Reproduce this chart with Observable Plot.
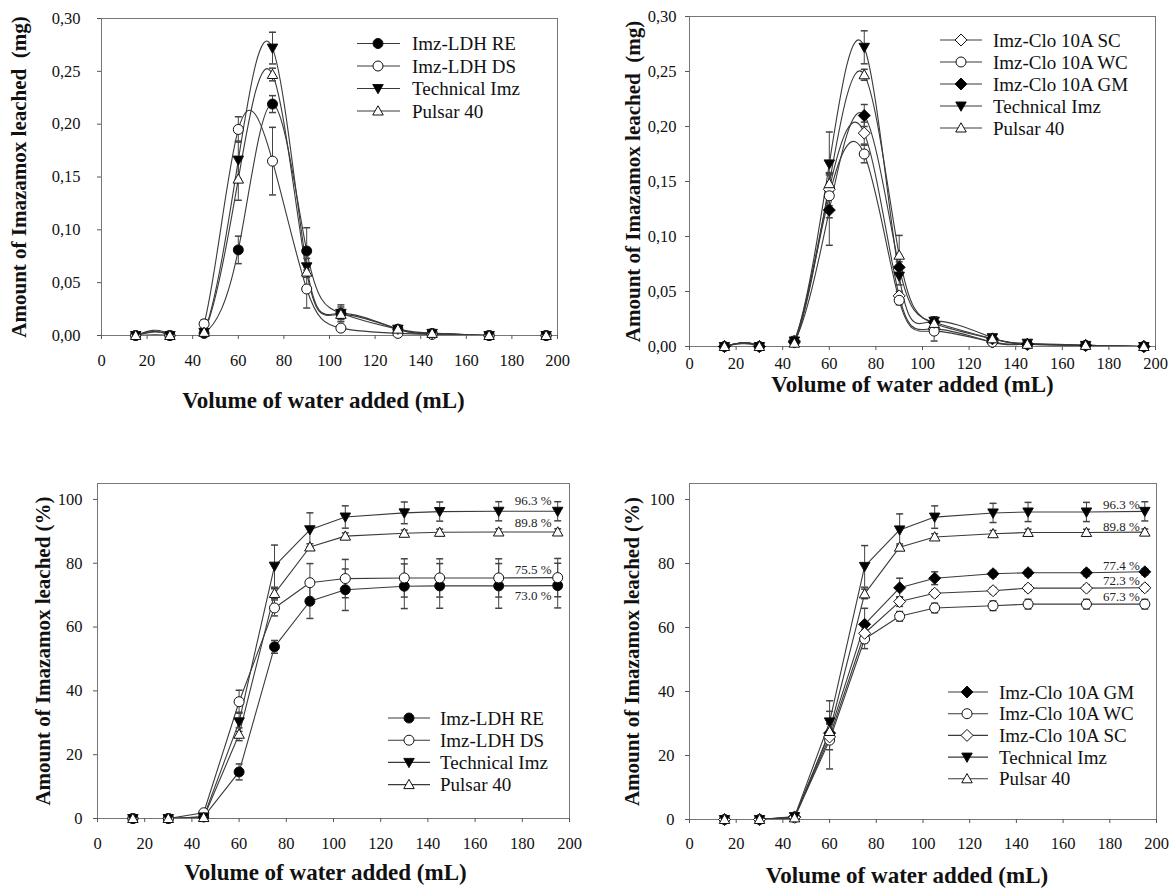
<!DOCTYPE html>
<html><head><meta charset="utf-8">
<script src="https://cdn.jsdelivr.net/npm/d3@7"></script>
<script src="https://cdn.jsdelivr.net/npm/@observablehq/plot@0.6"></script>
<style>
body{margin:0;background:#fff;}
#wrap{position:relative;width:1170px;height:892px;overflow:hidden;background:#fff;font-family:"Liberation Serif","Times New Roman",serif;}
#wrap svg{position:absolute;}
</style></head><body><div id="wrap"></div>
<script>
// ---------- shared data ----------
const volume = [15, 30, 45, 60, 75, 90, 105, 130, 145, 170, 195];
const xTicks = [0, 20, 40, 60, 80, 100, 120, 140, 160, 180, 200];
const yTicksMg = [0, 0.05, 0.10, 0.15, 0.20, 0.25, 0.30];
const yTicksPct = [0, 20, 40, 60, 80, 100];
const xTitle = "Volume of water added (mL)";
const yTitleMg = "Amount of Imazamox leached  (mg)";
const yTitlePct = "Amount of Imazamox leached (%)";

// ---------- panel A: LDH, mg ----------
const aRE      = [0, 0, 0.002, 0.081, 0.219, 0.080, 0.021, 0.006, 0.002, 0, 0];
const aRE_err  = [0, 0, 0.002, 0.013, 0.008, 0.022, 0.008, 0.002, 0, 0, 0];
const aDS      = [0, 0, 0.011, 0.195, 0.165, 0.044, 0.007, 0.002, 0.001, 0, 0];
const aDS_err  = [0, 0, 0.004, 0.012, 0.032, 0.018, 0.003, 0.001, 0, 0, 0];
const aTech    = [0, 0, 0.003, 0.166, 0.272, 0.065, 0.021, 0.006, 0.002, 0, 0];
const aTech_err= [0, 0, 0.005, 0.018, 0.015, 0.008, 0.006, 0.002, 0.001, 0, 0];
const aPul     = [0, 0, 0.003, 0.148, 0.247, 0.060, 0.020, 0.006, 0.002, 0, 0];
const aPul_err = [0, 0, 0.003, 0.020, 0.006, 0.005, 0.004, 0.002, 0, 0, 0];

// ---------- panel B: Clo 10A, mg ----------
const bSC      = [0, 0, 0.005, 0.143, 0.194, 0.046, 0.016, 0.004, 0.002, 0.001, 0];
const bSC_err  = [0, 0, 0.003, 0.015, 0.010, 0.004, 0.004, 0.002, 0, 0, 0];
const bWC      = [0, 0, 0.004, 0.137, 0.175, 0.042, 0.014, 0.004, 0.002, 0.001, 0];
const bWC_err  = [0, 0, 0.003, 0.020, 0.008, 0.004, 0.009, 0.002, 0, 0, 0];
const bGM      = [0, 0, 0.004, 0.124, 0.210, 0.072, 0.022, 0.007, 0.002, 0.001, 0];
const bGM_err  = [0, 0, 0.003, 0.032, 0.010, 0.005, 0.003, 0.002, 0, 0, 0];
const bTech    = [0, 0, 0.005, 0.166, 0.272, 0.064, 0.023, 0.008, 0.003, 0.001, 0];
const bTech_err= [0, 0, 0.004, 0.029, 0.015, 0.008, 0.004, 0.002, 0.001, 0, 0];
const bPul     = [0, 0, 0.003, 0.148, 0.247, 0.083, 0.021, 0.007, 0.002, 0.001, 0];
const bPul_err = [0, 0, 0.003, 0.010, 0.005, 0.018, 0.003, 0.001, 0, 0, 0];

// ---------- panel C: LDH, cumulative % ----------
const cRE      = [0, 0, 0.5, 14.6, 53.8, 68.1, 71.7, 72.8, 72.9, 72.9, 73.0];
const cRE_err  = [0, 0, 0.3, 2.5, 2.0, 5.4, 6.5, 7.0, 7.0, 7.0, 7.0];
const cDS      = [0, 0, 1.8, 36.6, 66.0, 73.9, 75.2, 75.4, 75.4, 75.4, 75.5];
const cDS_err  = [0, 0, 0.5, 3.6, 2.5, 6.0, 6.0, 6.0, 6.0, 6.0, 6.0];
const cTech    = [0, 0, 0.5, 30.3, 79.1, 90.5, 94.5, 95.8, 96.2, 96.3, 96.3];
const cTech_err= [0, 0, 0.3, 3.0, 6.6, 5.3, 3.5, 3.4, 3.0, 3.0, 3.0];
const cPul     = [0, 0, 0.3, 26.4, 70.5, 85.1, 88.5, 89.4, 89.7, 89.8, 89.8];
const cPul_err = [0, 0, 0.2, 2.0, 1.5, 1.0, 1.0, 1.0, 1.0, 1.0, 1.0];
const cLabels  = {Tech: "96.3 %", Pul: "89.8 %", DS: "75.5 %", RE: "73.0 %"};

// ---------- panel D: Clo 10A, cumulative % ----------
const dGM      = [0, 0, 0.8, 27.0, 61.0, 72.4, 75.4, 76.8, 77.1, 77.1, 77.4];
const dGM_err  = [0, 0, 0.3, 3.0, 5.0, 3.0, 2.0, 1.0, 1.0, 1.0, 1.0];
const dWC      = [0, 0, 0.6, 24.8, 56.4, 63.5, 66.1, 66.8, 67.3, 67.3, 67.3];
const dWC_err  = [0, 0, 0.3, 9.0, 3.0, 1.5, 1.5, 1.5, 1.5, 1.5, 1.5];
const dSC      = [0, 0, 0.7, 25.8, 58.2, 68.1, 70.7, 71.5, 72.3, 72.3, 72.4];
const dSC_err  = [0, 0, 0.3, 4.0, 3.0, 1.5, 1.0, 1.0, 1.0, 1.0, 1.0];
const dTech    = [0, 0, 0.9, 30.5, 79.1, 90.5, 94.5, 95.8, 96.1, 96.1, 96.3];
const dTech_err= [0, 0, 0.3, 6.6, 6.5, 5.0, 3.5, 3.0, 3.0, 3.0, 3.0];
const dPul     = [0, 0, 0.5, 27.5, 70.5, 85.1, 88.3, 89.3, 89.7, 89.7, 89.8];
const dPul_err = [0, 0, 0.2, 3.0, 1.5, 1.0, 1.0, 1.0, 1.0, 1.0, 1.0];
const dLabels  = {Tech: "96.3 %", Pul: "89.8 %", GM: "77.4 %", SC: "72.3 %", WC: "67.3 %"};

// ---------- symbols ----------
const rad = s => Math.sqrt(s / Math.PI);
const symCircle = {draw(c, s){const r = rad(s); c.moveTo(r, 0); c.arc(0, 0, r, 0, 2 * Math.PI);}};
const symTriUp = {draw(c, s){const r = rad(s); c.moveTo(0, -r * 1.05); c.lineTo(r * 1.05, r * 0.8); c.lineTo(-r * 1.05, r * 0.8); c.closePath();}};
const symTriDown = {draw(c, s){const r = rad(s); c.moveTo(0, r * 1.05); c.lineTo(r * 1.05, -r * 0.8); c.lineTo(-r * 1.05, -r * 0.8); c.closePath();}};
const symDiamond = {draw(c, s){const d = rad(s) * 1.2; c.moveTo(0, -d); c.lineTo(d, 0); c.lineTo(0, d); c.lineTo(-d, 0); c.closePath();}};
const symCap = {draw(c, s){const r = rad(s); c.moveTo(-r, 0); c.lineTo(r, 0);}};

const style = {
  filledCircle: {symbol: symCircle, fill: "#000"},
  openCircle: {symbol: symCircle, fill: "#fff"},
  filledDown: {symbol: symTriDown, fill: "#000"},
  openUp: {symbol: symTriUp, fill: "#fff"},
  filledDiamond: {symbol: symDiamond, fill: "#000"},
  openDiamond: {symbol: symDiamond, fill: "#fff"}
};

const FONT = "'Liberation Serif','Times New Roman',serif";
const fmtMg = d => d.toFixed(2).replace(".", ",");
const LINE = "#3a3a3a";

function panel(cfg) {
  const rows = [];
  cfg.series.forEach(s => s.values.forEach((v, i) => rows.push({key: s.key, x: volume[i], y: v, e: s.err[i]})));
  const errRows = rows.filter(r => r.e > 0);
  const marks = [Plot.frame({stroke: "#777", strokeWidth: 1})];
  cfg.series.forEach(s => marks.push(Plot.line(rows.filter(r => r.key === s.key),
    {x: "x", y: "y", curve: cfg.curve, stroke: LINE, strokeWidth: 1.1, clip: true})));
  marks.push(Plot.ruleX(errRows, {x: "x", y1: d => Math.max(0, d.y - d.e), y2: d => d.y + d.e, stroke: "#444", strokeWidth: 1}));
  marks.push(Plot.dot(errRows, {x: "x", y: d => d.y + d.e, symbol: symCap, r: 3.5, stroke: "#444", fill: "none"}));
  marks.push(Plot.dot(errRows.filter(d => d.y - d.e > 0), {x: "x", y: d => d.y - d.e, symbol: symCap, r: 3.5, stroke: "#444", fill: "none"}));
  cfg.series.forEach(s => marks.push(Plot.dot(rows.filter(r => r.key === s.key),
    {x: "x", y: "y", r: 5, symbol: s.st.symbol, fill: s.st.fill, stroke: "#111", strokeWidth: 1})));
  if (cfg.labels) {
    cfg.series.forEach(s => {
      if (!cfg.labels[s.key]) return;
      const last = rows.filter(r => r.key === s.key).slice(-1);
      marks.push(Plot.text(last, {x: "x", y: "y", text: () => cfg.labels[s.key], textAnchor: "end",
        dx: cfg.labelDx, dy: s.ldy, fontSize: 13, fontFamily: FONT, fill: "#222"}));
    });
  }
  marks.push(Plot.axisX({ticks: xTicks, tickSize: 4, tickPadding: cfg.xPad, label: null, stroke: "#555", fill: "#111", fontSize: 16.5, fontFamily: FONT}));
  marks.push(Plot.axisY({ticks: cfg.yTicks, tickFormat: cfg.yFmt, tickSize: 4, tickPadding: cfg.yPad, label: null, stroke: "#555", fill: "#111", fontSize: 16.5, fontFamily: FONT}));
  marks.push(Plot.text([xTitle], {text: d => d, frameAnchor: "bottom", textAnchor: "middle", dy: cfg.xTitleDy, dx: cfg.xTitleDx, fontSize: 23, fontWeight: "bold", fontFamily: FONT, fill: "#111"}));
  marks.push(Plot.text([cfg.yTitle], {text: d => d, frameAnchor: "left", textAnchor: "middle", rotate: -90, dx: cfg.yTitleDx, fontSize: 21, fontWeight: "bold", fontFamily: FONT, fill: "#111"}));
  const svg = Plot.plot({
    width: cfg.w, height: cfg.h,
    marginLeft: cfg.m[0], marginRight: cfg.m[1], marginTop: cfg.m[2], marginBottom: cfg.m[3],
    x: {domain: [0, 200]},
    y: {domain: cfg.yDomain},
    style: "font-family: 'Liberation Serif','Times New Roman',serif; font-size: 16.5px; color: #111; background: transparent; overflow: visible;",
    marks
  });
  svg.style.left = cfg.left + "px";
  svg.style.top = cfg.top + "px";
  document.getElementById("wrap").appendChild(svg);
}

const sA = [
  {key: "RE", name: "Imz-LDH RE", values: aRE, err: aRE_err, st: style.filledCircle},
  {key: "DS", name: "Imz-LDH DS", values: aDS, err: aDS_err, st: style.openCircle},
  {key: "Tech", name: "Technical Imz", values: aTech, err: aTech_err, st: style.filledDown},
  {key: "Pul", name: "Pulsar 40", values: aPul, err: aPul_err, st: style.openUp}
];
const sB = [
  {key: "SC", name: "Imz-Clo 10A SC", values: bSC, err: bSC_err, st: style.openDiamond},
  {key: "WC", name: "Imz-Clo 10A WC", values: bWC, err: bWC_err, st: style.openCircle},
  {key: "GM", name: "Imz-Clo 10A GM", values: bGM, err: bGM_err, st: style.filledDiamond},
  {key: "Tech", name: "Technical Imz", values: bTech, err: bTech_err, st: style.filledDown},
  {key: "Pul", name: "Pulsar 40", values: bPul, err: bPul_err, st: style.openUp}
];
const sC = [
  {key: "RE", name: "Imz-LDH RE", values: cRE, err: cRE_err, st: style.filledCircle, ldy: 10},
  {key: "DS", name: "Imz-LDH DS", values: cDS, err: cDS_err, st: style.openCircle, ldy: -8},
  {key: "Tech", name: "Technical Imz", values: cTech, err: cTech_err, st: style.filledDown, ldy: -10},
  {key: "Pul", name: "Pulsar 40", values: cPul, err: cPul_err, st: style.openUp, ldy: -9}
];
const sD = [
  {key: "GM", name: "Imz-Clo 10A GM", values: dGM, err: dGM_err, st: style.filledDiamond, ldy: -6},
  {key: "WC", name: "Imz-Clo 10A WC", values: dWC, err: dWC_err, st: style.openCircle, ldy: -7},
  {key: "SC", name: "Imz-Clo 10A SC", values: dSC, err: dSC_err, st: style.openDiamond, ldy: -7},
  {key: "Tech", name: "Technical Imz", values: dTech, err: dTech_err, st: style.filledDown, ldy: -7},
  {key: "Pul", name: "Pulsar 40", values: dPul, err: dPul_err, st: style.openUp, ldy: -5}
];

panel({left: 0, top: 0, w: 585, h: 445, m: [101, 28, 18, 110], series: sA, curve: "natural",
  yDomain: [0, 0.30], yTicks: yTicksMg, yFmt: fmtMg, yTitle: yTitleMg,
  xPad: 15, yPad: 17, xTitleDy: 72, xTitleDx: -6, yTitleDx: -82});
panel({left: 585, top: 0, w: 585, h: 445, m: [104, 15, 16, 99], series: sB, curve: "natural",
  yDomain: [0, 0.30], yTicks: yTicksMg, yFmt: fmtMg, yTitle: yTitleMg,
  xPad: 7, yPad: 9, xTitleDy: 45, xTitleDx: -10, yTitleDx: -56});
panel({left: 0, top: 445, w: 585, h: 447, m: [97, 16, 38, 74], series: sC, curve: "linear",
  yDomain: [0, 105], yTicks: yTicksPct, yFmt: d => String(d), yTitle: yTitlePct,
  xPad: 15, yPad: 11, xTitleDy: 61, xTitleDx: -8, yTitleDx: -54, labels: cLabels, labelDx: -6});
panel({left: 585, top: 445, w: 585, h: 447, m: [104, 14, 38, 73], series: sD, curve: "linear",
  yDomain: [0, 105], yTicks: yTicksPct, yFmt: d => String(d), yTitle: yTitlePct,
  xPad: 14, yPad: 11, xTitleDy: 63, xTitleDx: -16, yTitleDx: -57, labels: dLabels, labelDx: -5});

// ---------- legends (overlay) ----------
const overlay = d3.select("#wrap").append("svg").attr("width", 1170).attr("height", 892)
  .style("left", "0px").style("top", "0px").style("pointer-events", "none");
function legend(series, o) {
  series.forEach((s, i) => {
    const y = o.y0 + i * o.dy;
    overlay.append("line").attr("x1", o.x0).attr("x2", o.x1).attr("y1", y).attr("y2", y)
      .attr("stroke", LINE).attr("stroke-width", 1.1);
    overlay.append("path").attr("d", d3.symbol(s.st.symbol, Math.PI * 25)())
      .attr("transform", `translate(${o.xm},${y})`).attr("fill", s.st.fill).attr("stroke", "#111");
    overlay.append("text").attr("x", o.xt).attr("y", y).attr("dy", "0.35em")
      .attr("font-family", FONT).attr("font-size", 19)
      .attr("fill", "#111").text(s.name);
  });
}
legend(sA, {x0: 357, x1: 400, xm: 378, xt: 412, y0: 43.5, dy: 22.5});
legend(sB, {x0: 940, x1: 982, xm: 961, xt: 993, y0: 40, dy: 22});
legend(sC, {x0: 388, x1: 430, xm: 409, xt: 440, y0: 718, dy: 22.2});
legend(sD, {x0: 948, x1: 988, xm: 967, xt: 999, y0: 692, dy: 21.7});
</script></body></html>
